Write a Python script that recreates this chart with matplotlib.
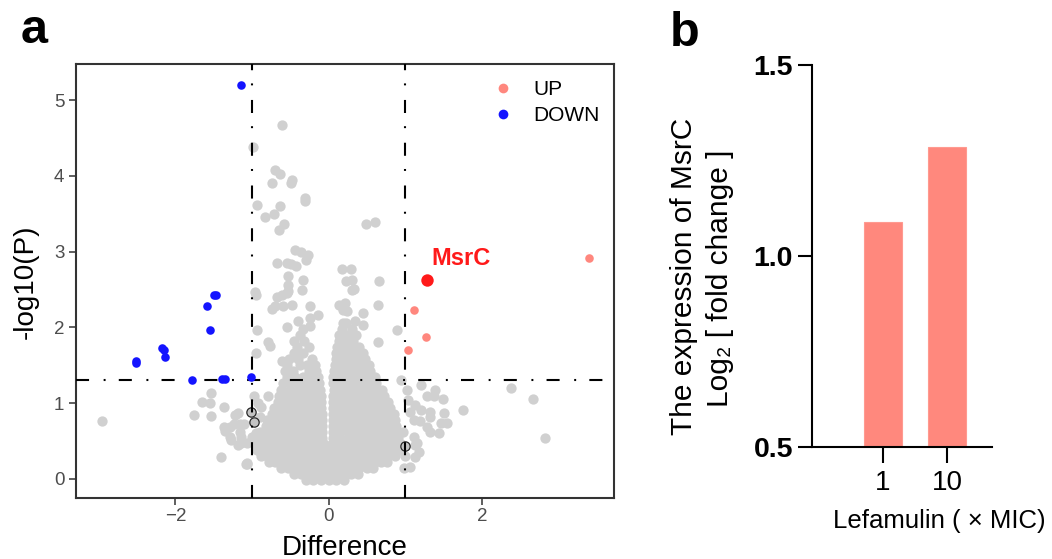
import matplotlib
matplotlib.use('Agg')
import matplotlib.pyplot as plt
from matplotlib.lines import Line2D

plt.rcParams['font.family'] = ['Liberation Sans', 'DejaVu Sans']
plt.rcParams['lines.scale_dashes'] = False

# ---------------- Panel a data (volcano) ----------------
# dense core of non-significant proteins: (y level, x values)
core_rows = [
    (-0.02, [-0.30, -0.20, -0.10, 0.00, 0.10, 0.20]),
    (0.06, [-0.45, -0.36, -0.27, -0.17, -0.08, 0.02, 0.11, 0.20, 0.29, 0.38]),
    (0.14, [-0.62, -0.53, -0.44, -0.35, -0.26, -0.16, -0.07, 0.03, 0.12, 0.21, 0.30, 0.40, 0.50, 0.58]),
    (0.22, [-0.78, -0.70, -0.61, -0.52, -0.43, -0.34, -0.25, -0.15, -0.06, 0.04, 0.13, 0.22, 0.32, 0.41,
            0.50, 0.60, 0.68, 0.76]),
    (0.30, [-0.88, -0.80, -0.71, -0.62, -0.53, -0.44, -0.35, -0.26, -0.16, -0.07, 0.03, 0.12, 0.21, 0.31,
            0.40, 0.49, 0.59, 0.68, 0.77, 0.86]),
    (0.38, [-0.93, -0.85, -0.76, -0.67, -0.58, -0.49, -0.40, -0.31, -0.22, -0.12, -0.03, 0.06, 0.15, 0.25,
            0.34, 0.43, 0.53, 0.62, 0.71, 0.80, 0.89, 0.95]),
    (0.46, [-0.96, -0.88, -0.79, -0.70, -0.61, -0.52, -0.43, -0.34, -0.24, -0.15, -0.06, 0.04, 0.13, 0.22,
            0.32, 0.41, 0.50, 0.60, 0.69, 0.78, 0.87, 0.95]),
    (0.54, [-0.93, -0.84, -0.75, -0.66, -0.57, -0.48, -0.39, -0.30, -0.20, -0.09, 0.05, 0.15, 0.25, 0.35,
            0.44, 0.53, 0.63, 0.72, 0.81, 0.90]),
    (0.62, [-0.90, -0.81, -0.72, -0.63, -0.54, -0.45, -0.36, -0.27, -0.18, -0.09, 0.05, 0.15, 0.26, 0.35,
            0.45, 0.54, 0.63, 0.72, 0.82, 0.91]),
    (0.70, [-0.82, -0.73, -0.64, -0.55, -0.46, -0.37, -0.28, -0.19, -0.09, 0.06, 0.16, 0.25, 0.34, 0.43,
            0.52, 0.61, 0.70, 0.79, 0.88]),
    (0.78, [-0.80, -0.73, -0.64, -0.55, -0.46, -0.37, -0.28, -0.19, -0.09, 0.06, 0.16, 0.25, 0.34, 0.43,
            0.52, 0.61, 0.70, 0.79, 0.87]),
    (0.86, [-0.74, -0.64, -0.55, -0.46, -0.37, -0.28, -0.19, -0.09, 0.06, 0.16, 0.25, 0.34, 0.43, 0.52,
            0.61, 0.70, 0.78, 0.85]),
    (0.94, [-0.72, -0.65, -0.56, -0.47, -0.38, -0.29, -0.20, -0.10, 0.06, 0.16, 0.25, 0.34, 0.43, 0.52,
            0.61, 0.70, 0.80]),
    (1.02, [-0.66, -0.56, -0.47, -0.38, -0.29, -0.20, -0.10, 0.06, 0.16, 0.25, 0.34, 0.43, 0.52, 0.61,
            0.70, 0.77]),
    (1.10, [-0.65, -0.56, -0.47, -0.38, -0.29, -0.20, -0.10, 0.06, 0.16, 0.25, 0.34, 0.43, 0.52, 0.61, 0.72]),
    (1.18, [-0.62, -0.50, -0.40, -0.30, -0.20, -0.11, 0.07, 0.16, 0.25, 0.34, 0.43, 0.52, 0.62, 0.69]),
    (1.26, [-0.60, -0.52, -0.42, -0.32, -0.22, -0.13, 0.06, 0.15, 0.24, 0.33, 0.42, 0.51, 0.62]),
    (1.34, [-0.54, -0.44, -0.34, -0.24, -0.14, 0.06, 0.15, 0.24, 0.33, 0.42, 0.52, 0.60]),
    (1.42, [-0.57, -0.46, -0.26, -0.16, 0.07, 0.16, 0.25, 0.34, 0.43, 0.54]),
    (1.50, [-0.55, -0.38, -0.28, -0.18, 0.08, 0.17, 0.26, 0.35, 0.45, 0.53]),
    (1.58, [-0.52, -0.40, -0.22, 0.09, 0.18, 0.27, 0.36, 0.48]),
    (1.66, [-0.45, -0.33, 0.10, 0.19, 0.28, 0.37, 0.45]),
    (1.74, [-0.42, -0.26, 0.11, 0.20, 0.29, 0.40]),
    (1.82, [-0.45, -0.32, 0.13, 0.22, 0.32]),
    (1.90, [-0.38, 0.14, 0.25, 0.36]),
    (1.98, [-0.33, 0.17, 0.30]),
    (2.06, [0.22]),
]

# scattered non-significant proteins (x = difference, y = -log10 P)
other_x = [-0.61, -0.99, -0.70, -0.63, -0.74, -0.48, -0.49, -0.31, -0.31, -0.94, -0.64, -0.83, -0.71,
           -0.58, -0.65, 0.49, 0.61, -0.44, -0.36, -0.27, -0.30, -0.67, -0.54, -0.43, -0.49, 0.18,
           0.29, 0.22, 0.31, 0.66, -0.53, -0.53, -0.53, -0.33, -0.35, 0.30, 0.33, -0.96, -0.95,
           -0.68, -0.61, -0.55, -0.74, -0.70, -0.59, -0.48, -0.24, 0.13, 0.21, 0.19, 0.24, 0.65,
           0.45, -0.40, -0.24, -0.14, -0.25, 0.19, 0.34, 0.45, 0.89, -0.94, -0.55, -0.79, -0.95,
           0.64, -0.61, -0.77, 0.95,
           -0.98, -0.92, -0.79, -1.11, -1.14, -1.07, -0.88, -0.90, -0.95, -1.00, -0.92,
           -2.96, -1.76, -1.65, -1.55, -1.53, -1.53, -1.37, -1.41, -1.08, -1.22, -1.18, -1.37,
           -1.29, -1.35, -1.24, -1.16, -1.16, -1.14, -1.29, -1.27, -1.18, -1.07, -1.07,
           2.38, 2.67, 2.82, 1.75, 1.50, 1.54, 1.47, 1.44, 1.39, 1.49, 1.37, 1.20, 1.32, 1.32,
           1.18, 1.13, 1.06, 1.02, 1.04, 1.21, 1.19, 1.11, 1.15, 1.28, 1.32, 1.11, 1.28, 1.13,
           1.13, 1.06, 1.00, 0.98, 0.97]
other_y = [4.67, 4.38, 4.07, 4.03, 3.91, 3.94, 3.90, 3.71, 3.67, 3.61, 3.60, 3.46, 3.50,
           3.37, 3.29, 3.36, 3.39, 3.02, 2.99, 2.96, 2.89, 2.85, 2.85, 2.81, 2.84, 2.77,
           2.77, 2.61, 2.62, 2.61, 2.68, 2.56, 2.48, 2.63, 2.49, 2.49, 2.50, 2.47, 2.43,
           2.40, 2.43, 2.46, 2.24, 2.28, 2.28, 2.30, 2.28, 2.30, 2.32, 2.23, 2.21, 2.30,
           2.19, 2.09, 2.12, 2.16, 2.02, 2.06, 2.09, 2.03, 1.97, 1.97, 2.00, 1.81, 1.66,
           1.81, 1.55, 1.75, 1.31,
           1.09, 1.00, 1.09, 0.73, 0.47, 0.20, 0.95, 0.82, 0.60, 0.55, 0.38,
           0.76, 0.85, 1.01, 1.00, 1.14, 0.83, 0.95, 0.29, 0.20, 0.85, 0.87, 0.69,
           0.69, 0.63, 0.73, 0.73, 0.62, 0.56, 0.56, 0.52, 0.45, 0.47, 0.21,
           1.20, 1.06, 0.54, 0.91, 0.87, 0.74, 0.74, 0.60, 1.18, 1.05, 1.09, 1.24, 0.88, 0.62,
           0.36, 0.98, 0.89, 1.17, 1.04, 0.91, 0.76, 0.56, 0.47, 1.09, 0.82, 0.78, 0.69, 0.45,
           0.29, 0.16, 0.30, 0.15, 0.62]

# proteins drawn with dark outline
ring_x = [-0.97, -1.02, 0.99]
ring_y = [0.75, 0.88, 0.44]

# significantly down-regulated
down_x = [-1.14, -1.50, -1.47, -1.59, -1.55, -2.17, -2.15, -2.14, -2.51, -2.51, -1.78, -1.39, -1.36, -1.01]
down_y = [5.20, 2.43, 2.43, 2.28, 1.97, 1.73, 1.70, 1.61, 1.53, 1.56, 1.30, 1.32, 1.32, 1.34]

# significantly up-regulated
up_x = [3.40, 1.11, 1.27, 1.04]
up_y = [2.92, 2.23, 1.87, 1.70]

msrc_x = [1.29]
msrc_y = [2.63]

fc_cut = 1.0
p_cut = 1.301

# ---------------- Panel b data ----------------
b_categories = ['1', '10']
b_values = [1.089, 1.284]

# ---------------- Figure ----------------
W, H = 1052, 559
fig = plt.figure(figsize=(W / 100, H / 100), dpi=100)

axa = fig.add_axes([76 / W, 1 - 498 / H, 538 / W, 434 / H])

gx = [x for y, xs in core_rows for x in xs] + other_x
gy = [y for y, xs in core_rows for x in xs] + other_y
axa.scatter(gx, gy, s=55, c='#d0d0d0', linewidths=0, zorder=2)
axa.scatter(ring_x, ring_y, s=45, facecolors='#c4c4c4', edgecolors='#2a2a2a', linewidths=0.9, zorder=3)

dash = (0, (9.4, 10.5, 1.4, 9.5))
for xv in (-fc_cut, fc_cut):
    axa.axvline(xv, color='black', lw=1.5, linestyle=dash, zorder=4)
axa.axhline(p_cut, color='black', lw=1.5, linestyle=dash, zorder=4)

axa.scatter(down_x, down_y, s=38, c='#1414ff', linewidths=0, zorder=5)
axa.scatter(up_x, up_y, s=38, c='#ff7a70', alpha=0.9, linewidths=0, zorder=5)
axa.scatter(msrc_x, msrc_y, s=80, c='#ff1a1a', linewidths=0, zorder=6)
axa.text(1.345, 2.82, 'MsrC', color='#ff1a1a', fontsize=17, fontweight='bold',
         ha='left', va='baseline', zorder=7)

axa.set_xlim(-3.299, 3.725)
axa.set_ylim(-0.251, 5.475)
axa.set_xticks([-2, 0, 2])
axa.set_yticks([0, 1, 2, 3, 4, 5])
for s in axa.spines.values():
    s.set_color('#333333')
    s.set_linewidth(1.5)
axa.tick_params(colors='#333333', labelcolor='#4d4d4d', labelsize=13.5, length=5, width=1.1)
axa.tick_params(axis='y', pad=3.4)
axa.tick_params(axis='x', pad=2)

handles = [Line2D([], [], ls='none', marker='o', ms=7, mfc='#ff7a70', mec='none', alpha=0.9),
           Line2D([], [], ls='none', marker='o', ms=7, mfc='#1414ff', mec='none')]
axa.legend(handles, ['UP', 'DOWN'], loc='upper left', bbox_to_anchor=(0.774, 0.963),
           frameon=False, fontsize=15, handlelength=1.0, handletextpad=0.95,
           labelspacing=0.35, borderpad=0, borderaxespad=0)

fig.text(344.7 / W, 1 - 555 / H, 'Difference', ha='center', va='baseline', fontsize=20)
fig.text(33 / W, 1 - 282 / H, '-log10(P)', rotation=90, ha='center', va='baseline',
         rotation_mode='anchor', fontsize=20)
fig.text(21 / W, 1 - 42.7 / H, 'a', fontsize=35, fontweight='bold', va='baseline')

# ---------------- Panel b ----------------
axb = fig.add_axes([811.7 / W, 1 - 446.7 / H, 180 / W, 381.7 / H])
pos = list(range(len(b_categories)))
axb.bar(pos, b_values, width=0.592, color='#ff887d', edgecolor='#ff9a90', linewidth=0.8, zorder=1)
axb.set_ylim(0.5, 1.5)
axb.set_xlim(-1.11, 1.693)
axb.set_yticks([0.5, 1.0, 1.5])
axb.set_yticklabels(['0.5', '1.0', '1.5'], fontweight='bold', fontsize=20.5)
axb.set_xticks(pos)
axb.set_xticklabels(b_categories, fontsize=20)
for side in ('top', 'right'):
    axb.spines[side].set_visible(False)
for side in ('left', 'bottom'):
    axb.spines[side].set_color('black')
    axb.spines[side].set_linewidth(1.5)
axb.tick_params(axis='y', length=10.4, width=1.5, pad=3, color='black')
axb.tick_params(axis='x', length=11.5, width=1.5, pad=5, color='black')

fig.text(939 / W, 1 - 528.3 / H, 'Lefamulin ( × MIC)', ha='center', va='baseline', fontsize=18.5)
fig.text(691.7 / W, 1 - 276 / H, 'The expression of MsrC', rotation=90, ha='center',
         va='baseline', rotation_mode='anchor', fontsize=21.5)
fig.text(728 / W, 1 - 278 / H, 'Log₂ [ fold change ]', rotation=90, ha='center',
         va='baseline', rotation_mode='anchor', fontsize=21.5)
fig.text(670 / W, 1 - 46.3 / H, 'b', fontsize=35, fontweight='bold', va='baseline')

fig.savefig('out.png', dpi=100)
